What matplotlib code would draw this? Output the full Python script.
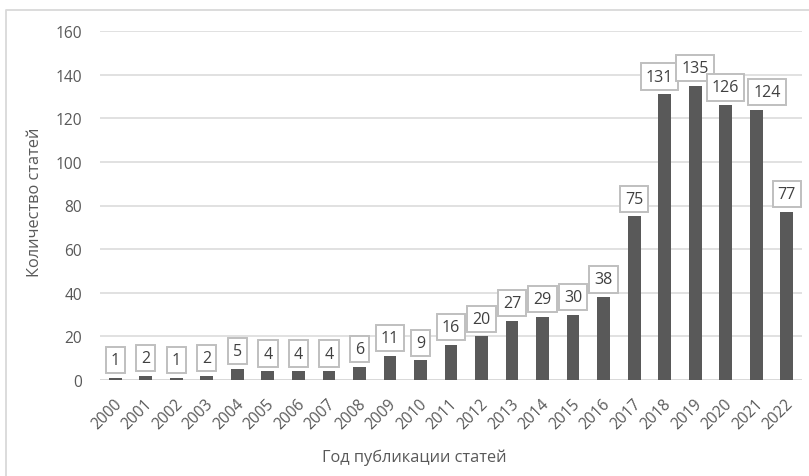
from matplotlib import pyplot as plt
from matplotlib.lines import Line2D
import matplotlib.transforms as mtransforms
import numpy as np

# publications per year
years = [str(y) for y in range(2000, 2023)]
counts = [1, 2, 1, 2, 5, 4, 4, 4, 6, 11, 9, 16, 20, 27, 29, 30, 38,
          75, 131, 135, 126, 124, 77]

# small sideways nudges (px) for crowded labels, like Excel does
label_nudge = {'2018': -5, '2021': 11}

plt.rcParams['font.family'] = ['Open Sans', 'DejaVu Sans']
text_color = '#595959'
W, H = 809, 477

fig = plt.figure(figsize=(W / 100, H / 100), dpi=100)
ax = fig.add_axes([100 / W, 1 - 381 / H, 702 / W, 349 / H])

x = np.arange(len(years))
ax.bar(x, counts, width=0.42, color='#595959', zorder=3)

ax.set_xlim(-0.5, len(years) - 0.5)
ax.set_ylim(0, 160)
ax.set_yticks(range(0, 161, 20))
ax.grid(axis='y', color='#d9d9d9', linewidth=1.1, zorder=0)
ax.axhline(0, color='#d9d9d9', linewidth=1.3, zorder=2)
for s in ax.spines.values():
    s.set_visible(False)

ax.tick_params(axis='both', length=0, colors=text_color, labelsize=11.2)
ax.tick_params(axis='y', pad=13)
ax.set_xticks(x)
ax.set_xticklabels(years, rotation=45, ha='right', va='center',
                   rotation_mode='anchor')
ax.tick_params(axis='x', pad=15)
shift = mtransforms.ScaledTranslation(4 / 100, 0, fig.dpi_scale_trans)
for lab in ax.get_xticklabels():
    lab.set_transform(lab.get_transform() + shift)

# value labels in boxes
for xi, yr, c in zip(x, years, counts):
    ax.annotate(str(c), (xi, c), xytext=(label_nudge.get(yr, 0) * 0.72, 7),
                textcoords='offset points', ha='center', va='bottom',
                fontsize=11.5, color='#404040', zorder=5,
                bbox=dict(boxstyle='square,pad=0.32', fc='white',
                          ec='#bfbfbf', lw=1.4))

fig.text(414 / W, 1 - 458 / H, 'Год публикации статей', ha='center',
         va='center', fontsize=11.8, color=text_color)
fig.text(35 / W, 1 - 202 / H, 'Количество статей', ha='center',
         va='center', rotation=90, fontsize=11.8, color=text_color)

# chart frame (only left and top visible in the crop)
fig.add_artist(Line2D([6 / W, 6 / W, 1.01], [-0.01, 1 - 11 / H, 1 - 11 / H],
                      transform=fig.transFigure, color='#d9d9d9', lw=1.3))

fig.savefig('out.png', dpi=100)
